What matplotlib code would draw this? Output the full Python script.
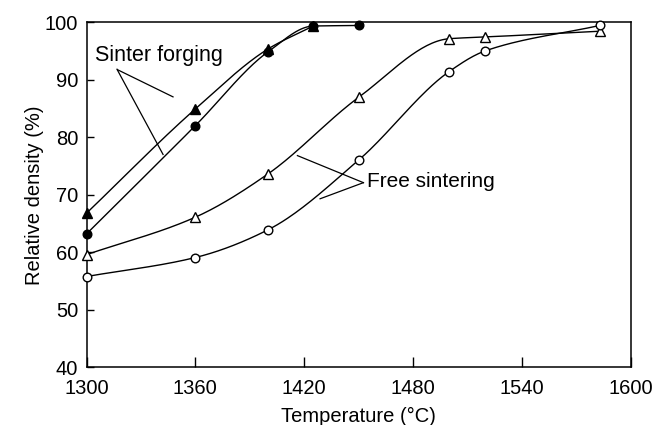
import numpy as np
import matplotlib
matplotlib.use("Agg")
import matplotlib.pyplot as plt

plt.rcParams['font.family'] = ['Liberation Sans', 'DejaVu Sans']

# 数据
forge_tri_x = [1300, 1360, 1400, 1425]
forge_tri_y = [66.8, 84.9, 95.3, 99.3]
forge_circ_x = [1300, 1360, 1400, 1425, 1450]
forge_circ_y = [63.2, 82.0, 94.8, 99.3, 99.4]
free_tri_x = [1300, 1360, 1400, 1450, 1500, 1520, 1583]
free_tri_y = [59.6, 66.1, 73.6, 86.9, 97.1, 97.4, 98.4]
free_circ_x = [1300, 1360, 1400, 1450, 1500, 1520, 1583]
free_circ_y = [55.8, 59.1, 63.9, 76.0, 91.4, 95.0, 99.4]

x_ticks = [1300, 1360, 1420, 1480, 1540, 1600]
y_ticks = [40, 50, 60, 70, 80, 90, 100]


# 平滑曲线 (单调三次 Hermite)
def pchip(x, y, n=200):
    x = np.asarray(x, float)
    y = np.asarray(y, float)
    h = np.diff(x)
    d = np.diff(y) / h
    m = np.zeros_like(y)
    m[0], m[-1] = d[0], d[-1]
    for k in range(1, len(x) - 1):
        if d[k - 1] * d[k] > 0:
            w1 = 2 * h[k] + h[k - 1]
            w2 = h[k] + 2 * h[k - 1]
            m[k] = (w1 + w2) / (w1 / d[k - 1] + w2 / d[k])
    xs = np.linspace(x[0], x[-1], n)
    idx = np.clip(np.searchsorted(x, xs) - 1, 0, len(x) - 2)
    t = (xs - x[idx]) / h[idx]
    h00 = 2 * t**3 - 3 * t**2 + 1
    h10 = t**3 - 2 * t**2 + t
    h01 = -2 * t**3 + 3 * t**2
    h11 = t**3 - t**2
    ys = h00 * y[idx] + h10 * h[idx] * m[idx] + h01 * y[idx + 1] + h11 * h[idx] * m[idx + 1]
    return xs, ys


fig = plt.figure(figsize=(6.54, 4.25), dpi=100)
ax = fig.add_axes([0.1323, 0.1353, 0.8318, 0.8129])

series = [
    (forge_tri_x, forge_tri_y, '^', 'black'),
    (forge_circ_x, forge_circ_y, 'o', 'black'),
    (free_tri_x, free_tri_y, '^', 'white'),
    (free_circ_x, free_circ_y, 'o', 'white'),
]
for xs, ys, mk, fc in series:
    sx, sy = pchip(xs, ys)
    ax.plot(sx, sy, color='black', lw=1.0, zorder=2)
    ax.plot(xs, ys, linestyle='none', marker=mk, ms=6.5 if mk == '^' else 6.2,
            mfc=fc, mec='black', mew=1.0, zorder=3, clip_on=False)

# 标注
ax.text(1304.7, 94.2, "Sinter forging", fontsize=15.5, ha='left', va='center')
ax.plot([1317.2, 1347.7], [91.7, 87.0], color='black', lw=0.9)
ax.plot([1316.8, 1342.2], [91.8, 77.0], color='black', lw=0.9)

ax.text(1454.5, 72.25, "Free sintering", fontsize=15, ha='left', va='center')
ax.plot([1416.3, 1452.7], [76.8, 72.1], color='black', lw=0.9)
ax.plot([1428.8, 1452.7], [69.3, 72.1], color='black', lw=0.9)

ax.set_xlim(1300, 1600)
ax.set_ylim(40, 100)
ax.set_xticks(x_ticks)
ax.set_yticks(y_ticks)
ax.tick_params(axis='x', direction='in', length=7, width=1, pad=8, labelsize=14.5)
ax.tick_params(axis='y', direction='in', length=5, width=1, pad=6, labelsize=14.5)
for s in ax.spines.values():
    s.set_linewidth(1.1)

ax.set_xlabel("Temperature (°C)", fontsize=14.5)
ax.set_ylabel("Relative density (%)", fontsize=14.5)
ax.xaxis.set_label_coords(0.5, -0.143)
ax.yaxis.set_label_coords(-0.095, 0.5)
ax.xaxis.label.set_va('center')
ax.yaxis.label.set_va('center')

fig.savefig("out.png", dpi=100)
